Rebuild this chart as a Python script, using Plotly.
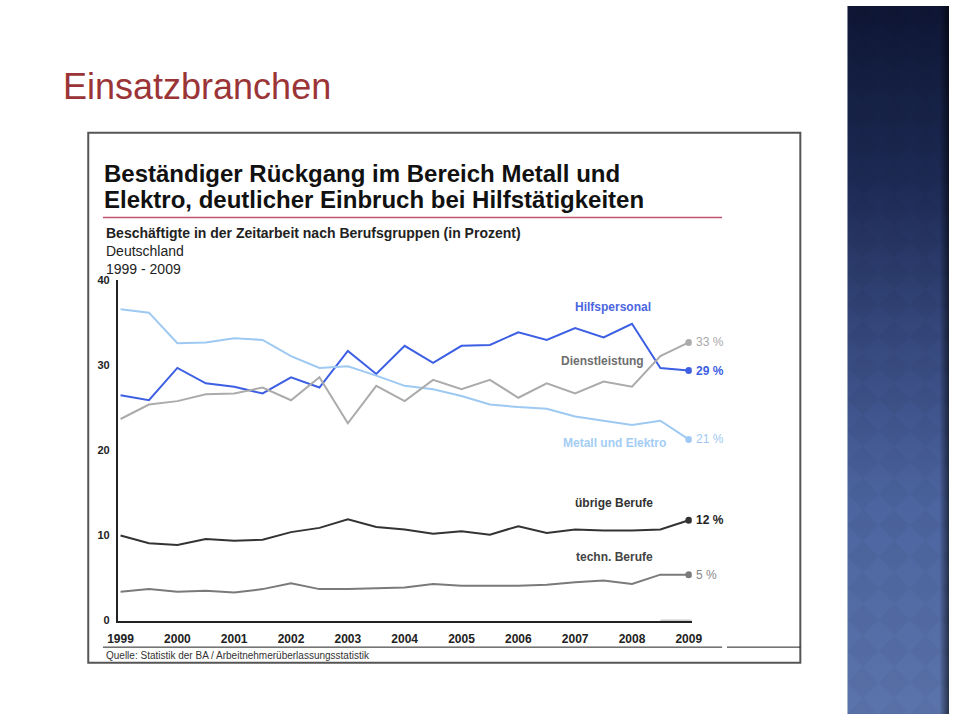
import base64
import plotly.graph_objects as go

# ---------------- data ----------------
periods = [1999.0, 1999.5, 2000.0, 2000.5, 2001.0, 2001.5, 2002.0, 2002.5,
           2003.0, 2003.5, 2004.0, 2004.5, 2005.0, 2005.5, 2006.0, 2006.5,
           2007.0, 2007.5, 2008.0, 2008.5, 2009.0]

hilfspersonal = [26.5, 25.9, 29.7, 27.9, 27.5, 26.7, 28.6, 27.4, 31.7, 29.0, 32.3,
                 30.3, 32.3, 32.4, 33.9, 33.0, 34.4, 33.3, 34.9, 29.7, 29.4]
metall_elektro = [36.6, 36.2, 32.6, 32.7, 33.2, 33.0, 31.1, 29.7, 29.9, 28.8, 27.6,
                  27.2, 26.4, 25.4, 25.1, 24.9, 24.0, 23.5, 23.0, 23.5, 21.3]
dienstleistung = [23.7, 25.4, 25.8, 26.6, 26.7, 27.4, 25.9, 28.6, 23.2, 27.6, 25.8,
                  28.3, 27.2, 28.3, 26.2, 27.9, 26.7, 28.1, 27.5, 31.1, 32.7]
uebrige_berufe = [10.0, 9.1, 8.9, 9.6, 9.4, 9.5, 10.4, 10.9, 11.9, 11.0, 10.7,
                  10.2, 10.5, 10.1, 11.1, 10.3, 10.7, 10.6, 10.6, 10.7, 11.8]
techn_berufe = [3.4, 3.7, 3.4, 3.5, 3.3, 3.7, 4.4, 3.7, 3.7, 3.8, 3.9,
                4.3, 4.1, 4.1, 4.1, 4.2, 4.5, 4.7, 4.3, 5.4, 5.4]

year_ticks = [1999, 2000, 2001, 2002, 2003, 2004, 2005, 2006, 2007, 2008, 2009]
y_ticks = [0, 10, 20, 30, 40]
end_labels = ["29 %", "21 %", "33 %", "12 %", "5 %"]

series = [
    # name, values, line colour, label colour, end-label colour, bold end label, label pos
    ("Hilfspersonal", hilfspersonal, "#3d5fe3", "#4b66e0", "#3d5fe3", True, (2007.67, 36.9)),
    ("Metall und Elektro", metall_elektro, "#9dc9f2", "#a4cdf4", "#9dc9f2", False, (2007.69, 20.9)),
    ("Dienstleistung", dienstleistung, "#ababab", "#6e6e6e", "#a8a8a8", False, (2007.49, 30.5)),
    ("übrige Berufe", uebrige_berufe, "#333333", "#333333", "#222222", True, (2007.69, 13.8)),
    ("techn. Berufe", techn_berufe, "#7a7a7a", "#444444", "#888888", False, (2007.69, 7.5)),
]

W, H = 960, 720
FONT = "Liberation Sans, Arial, sans-serif"


def px(x):
    return x / W


def py(y):
    return 1 - y / H


fig = go.Figure()

for (name, vals, lc, tc, ec, bold, pos), lab in zip(series, end_labels):
    fig.add_trace(go.Scatter(
        x=periods, y=vals, mode="lines", line=dict(color=lc, width=2),
        name=name, showlegend=False, hoverinfo="skip"))
    fig.add_trace(go.Scatter(
        x=[periods[-1]], y=[vals[-1]], mode="markers",
        marker=dict(color=lc, size=7), showlegend=False, hoverinfo="skip"))
    fig.add_annotation(x=periods[-1], y=vals[-1], xref="x", yref="y",
                       text=("<b>%s</b>" % lab) if bold else lab,
                       showarrow=False, xanchor="left", xshift=5,
                       font=dict(family=FONT, size=12, color=ec))
    fig.add_annotation(x=pos[0], y=pos[1], xref="x", yref="y",
                       text="<b>%s</b>" % name, showarrow=False, xanchor="center",
                       font=dict(family=FONT, size=12, color=tc))

# right decorative panel (gradient)
svg = """<svg xmlns='http://www.w3.org/2000/svg' width='104' height='720' viewBox='0 0 104 720' preserveAspectRatio='none'>
<defs>
<linearGradient id='g' x1='0' y1='0' x2='0' y2='1'>
<stop offset='0' stop-color='#0e1634'/>
<stop offset='0.25' stop-color='#1d2a55'/>
<stop offset='0.45' stop-color='#34467a'/>
<stop offset='0.7' stop-color='#4c64a0'/>
<stop offset='1' stop-color='#5b74ab'/>
</linearGradient>
<pattern id='p' width='32' height='32' patternUnits='userSpaceOnUse'>
<path d='M16 0 L32 16 L16 32 L0 16 Z' fill='#000' fill-opacity='0.035'/>
</pattern>
<linearGradient id='e' x1='0' y1='0' x2='1' y2='0'>
<stop offset='0' stop-color='#000' stop-opacity='0'/>
<stop offset='1' stop-color='#000' stop-opacity='0.55'/>
</linearGradient>
</defs>
<rect width='104' height='720' fill='url(#g)'/>
<rect width='104' height='720' fill='url(#p)'/>
<rect x='94' width='10' height='720' fill='url(#e)'/>
</svg>"""
src = "data:image/svg+xml;base64," + base64.b64encode(svg.encode()).decode()
fig.add_layout_image(source=src, xref="paper", yref="paper", x=px(856), y=1,
                     sizex=px(104), sizey=1, sizing="stretch", xanchor="left",
                     yanchor="top", layer="below")

shapes = [
    # frame
    dict(type="rect", xref="paper", yref="paper", x0=px(80), x1=px(808),
         y0=py(668), y1=py(129), line=dict(color="#555555", width=2)),
    # red rule under title
    dict(type="line", xref="paper", yref="paper", x0=px(95), x1=px(728),
         y0=py(215), y1=py(215), line=dict(color="#c4546e", width=1.5)),
    # rules above source
    dict(type="line", xref="paper", yref="paper", x0=px(95), x1=px(728),
         y0=py(652), y1=py(652), line=dict(color="#222222", width=1)),
    dict(type="line", xref="paper", yref="paper", x0=px(733), x1=px(808),
         y0=py(652), y1=py(652), line=dict(color="#222222", width=1)),
    # light part of the x axis line
    dict(type="line", xref="x", yref="y", x0=2008.5, x1=2009.052, y0=0, y1=0,
         line=dict(color="#9a9a9a", width=1.5)),
]
fig.update_layout(shapes=shapes)

texts = [
    ("Einsatzbranchen", 52, 82, 36, "#9b3436", False),
    ("Beständiger Rückgang im Bereich Metall und", 94, 170, 24, "#111111", True),
    ("Elektro, deutlicher Einbruch bei Hilfstätigkeiten", 94, 197, 24, "#111111", True),
    ("Beschäftigte in der Zeitarbeit nach Berufsgruppen (in Prozent)", 96, 231, 14, "#222222", True),
    ("Deutschland", 96, 249, 14, "#222222", False),
    ("1999 - 2009", 96, 267, 14, "#222222", False),
    ("Quelle: Statistik der BA / Arbeitnehmerüberlassungsstatistik", 96, 660, 10, "#333333", False),
]
for t, x, y, s, c, b in texts:
    fig.add_annotation(x=px(x), y=py(y), xref="paper", yref="paper",
                       text=("<b>%s</b>" % t) if b else t, showarrow=False,
                       xanchor="left", yanchor="middle",
                       font=dict(family=FONT, size=s, color=c))

fig.update_layout(
    width=W, height=H, margin=dict(l=0, r=0, t=0, b=0),
    paper_bgcolor="white", plot_bgcolor="rgba(0,0,0,0)",
    xaxis=dict(domain=[px(110), px(697)], range=[1998.948, 2009.052],
               tickvals=year_ticks, ticktext=["<b>%d</b>" % v for v in year_ticks],
               showgrid=False, zeroline=False, showline=True, linecolor="#222222",
               linewidth=1.5, ticks="", ticklabelstandoff=6,
               tickfont=dict(family=FONT, size=12, color="#222222")),
    yaxis=dict(domain=[py(625), py(279)], range=[0, 40],
               tickvals=y_ticks, ticktext=["<b>%d</b>" % v for v in y_ticks],
               showgrid=False, zeroline=False, showline=True, linecolor="#222222",
               linewidth=1.5, ticks="", ticklabelstandoff=4,
               tickfont=dict(family=FONT, size=11, color="#222222")),
)

fig.write_html("out.html", config={"displayModeBar": False},
               post_script="document.body.style.margin='0';"
                           "document.body.style.overflow='hidden';")
